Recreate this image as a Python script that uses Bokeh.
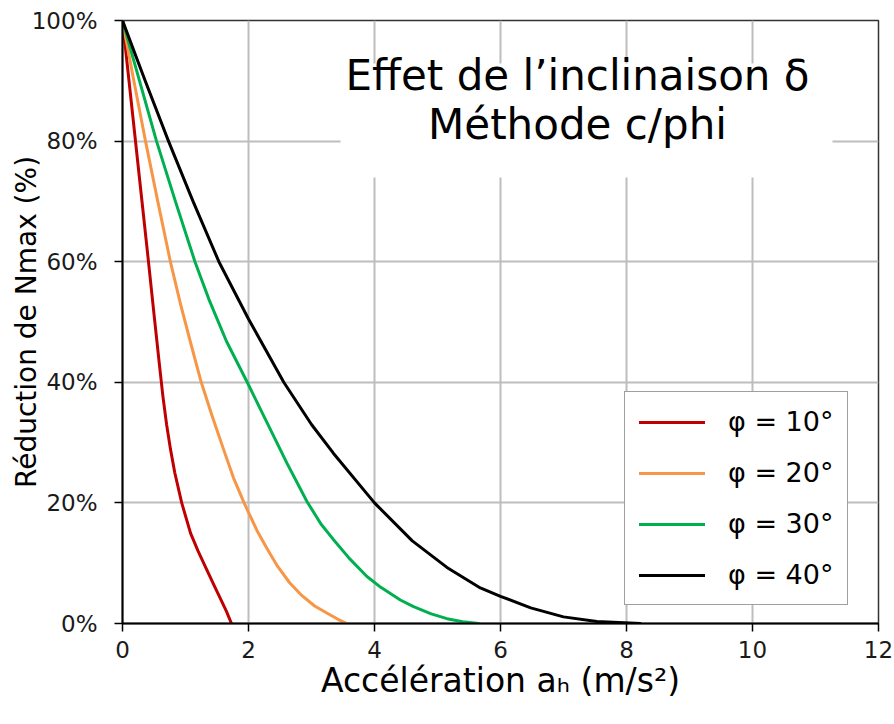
from bokeh.plotting import figure
from bokeh.models import (Range1d, FixedTicker, PrintfTickFormatter, Label,
                          BoxAnnotation, Legend, LegendItem)
from bokeh.embed import file_html
from bokeh.resources import INLINE

FONT = "DejaVu Sans"

# ---- data ----
series_labels = ["φ = 10°", "φ = 20°", "φ = 30°", "φ = 40°"]
series_colors = ["#C00000", "#F79646", "#00B050", "#000000"]

x_phi10 = [0, 0.1, 0.2, 0.3, 0.4, 0.5, 0.58, 0.64, 0.7, 0.76, 0.83, 0.94, 1.08, 1.2, 1.32, 1.45, 1.56, 1.65, 1.73]
y_phi10 = [100, 90.3, 80.6, 70.9, 61.2, 51.3, 43.5, 37.8, 33, 29, 25, 20, 15, 12, 9.3, 6.4, 4.0, 2.0, 0]

x_phi20 = [0, 0.18, 0.365, 0.56, 0.76, 0.92, 1.08, 1.25, 1.42, 1.6, 1.76, 1.93, 2.14, 2.3, 2.46, 2.65, 2.83, 3.05, 3.25, 3.42, 3.56]
y_phi20 = [100, 90, 80, 70, 60, 53, 46.6, 40, 34.5, 29, 24.2, 20, 15.3, 12.3, 9.5, 6.8, 4.8, 2.9, 1.7, 0.7, 0]

x_phi30 = [0, 0.27, 0.54, 0.84, 1.15, 1.37, 1.65, 1.98, 2.3, 2.61, 2.93, 3.15, 3.35, 3.6, 3.88, 4.1, 4.41, 4.62, 4.9, 5.15, 5.4, 5.65]
y_phi30 = [100, 90, 80, 70, 60, 53.8, 46.8, 40, 33.2, 26.6, 20.2, 16.5, 13.9, 10.8, 7.8, 6.0, 3.9, 2.8, 1.6, 0.8, 0.3, 0]

x_phi40 = [0, 0.36, 0.73, 1.12, 1.53, 2.0, 2.56, 3.0, 3.35, 4.0, 4.6, 5.15, 5.68, 6.0, 6.48, 7.0, 7.53, 8.22]
y_phi40 = [100, 90, 80, 70, 60, 50.5, 40, 33.0, 28.2, 20, 13.7, 9.3, 5.9, 4.5, 2.6, 1.1, 0.35, 0]

x_ticks = [0, 2, 4, 6, 8, 10, 12]
y_ticks = [0, 20, 40, 60, 80, 100]

title_lines = ["Effet de l’inclinaison δ", "Méthode c/phi"]
x_label = "Accélération aₕ (m/s²)"
y_label = "Réduction de Nmax (%)"

xs = [x_phi10, x_phi20, x_phi30, x_phi40]
ys = [y_phi10, y_phi20, y_phi30, y_phi40]

# ---- figure ----
p = figure(width=894, height=724, output_backend="svg", toolbar_location=None,
           x_range=Range1d(0, 12), y_range=Range1d(0, 100),
           min_border_left=122, min_border_right=16, min_border_top=20,
           min_border_bottom=101)
p.background_fill_color = "white"
p.border_fill_color = "white"
p.outline_line_color = "#333333"
p.outline_line_width = 1.5

for ax in (p.xaxis[0], p.yaxis[0]):
    ax.axis_line_color = "black"
    ax.axis_line_width = 2
    ax.major_tick_line_color = "black"
    ax.major_tick_line_width = 1.5
    ax.major_tick_out = 8
    ax.major_tick_in = 0
    ax.minor_tick_line_color = None
    ax.major_label_text_font = FONT
    ax.major_label_text_font_size = "23px"
    ax.major_label_text_color = "#1a1a1a"
    ax.axis_label_text_font = FONT
    ax.axis_label_text_font_style = "normal"
    ax.axis_label_text_color = "black"

p.xaxis.ticker = FixedTicker(ticks=x_ticks)
p.yaxis.ticker = FixedTicker(ticks=y_ticks)
p.yaxis.formatter = PrintfTickFormatter(format="%d%%")
p.xaxis.major_label_standoff = 9
p.yaxis.major_label_standoff = 17

p.yaxis.axis_label = y_label
p.yaxis.axis_label_text_font_size = "28px"
p.yaxis.axis_label_standoff = -14

p.xaxis.axis_label = x_label
p.xaxis.axis_label_text_font_size = "33px"
p.xaxis.axis_label_standoff = 0

p.xgrid.ticker = FixedTicker(ticks=x_ticks)
p.ygrid.ticker = FixedTicker(ticks=y_ticks)
for g in (p.xgrid[0], p.ygrid[0]):
    g.grid_line_color = "#bdbdbd"
    g.grid_line_width = 2

renderers = []
for x, y, c in zip(xs, ys, series_colors):
    r = p.line(x, y, line_color=c, line_width=3, line_join="round", line_cap="round")
    renderers.append(r)

# title box (white background covering the grid)
p.add_layout(BoxAnnotation(left=218, right=710, bottom=446, top=560,
                           left_units="screen", right_units="screen",
                           bottom_units="screen", top_units="screen",
                           fill_color="white", fill_alpha=1.0, line_color=None))
for txt, yy in zip(title_lines, [548, 499]):
    p.add_layout(Label(x=455, y=yy, x_units="screen", y_units="screen", text=txt,
                       text_align="center", text_baseline="alphabetic",
                       text_font=FONT, text_font_size="42px", text_color="black"))

legend = Legend(items=[LegendItem(label=l, renderers=[r]) for l, r in zip(series_labels, renderers)],
                location=(502, 18))
legend.border_line_color = "#404040"
legend.border_line_width = 1.5
legend.background_fill_color = "white"
legend.background_fill_alpha = 1.0
legend.padding = 14
legend.spacing = 20
legend.margin = 0
legend.glyph_width = 66
legend.glyph_height = 30
legend.label_standoff = 23
legend.label_text_font = FONT
legend.label_text_font_size = "27px"
legend.label_text_color = "black"
p.add_layout(legend)

open("out.html", "w").write(file_html(p, INLINE))
